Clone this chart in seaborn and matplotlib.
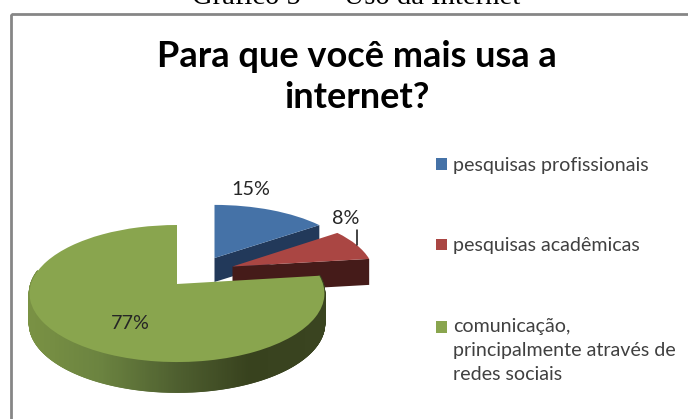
import numpy as np
import matplotlib
matplotlib.use("Agg")
import matplotlib.pyplot as plt
from matplotlib.collections import PolyCollection
from matplotlib.patches import Polygon, Rectangle
from matplotlib.transforms import Transform
from matplotlib.lines import Line2D
import seaborn as sns

categories = [
    "pesquisas profissionais",
    "pesquisas acadêmicas",
    "comunicação,\nprincipalmente através de\nredes sociais",
]
shares = [15, 8, 77]
caption = "Gráfico 5 — Uso da Internet"
title = "Para que você mais usa a\ninternet?"

TOP_COLORS = ["#4572A7", "#AA4643", "#89A54E"]
CUT_COLORS = ["#22395A", "#451B19", "#3A4420"]
RIM_STOPS = ["#7A9244", "#6B8340", "#4F6030", "#38421E", "#3A4420"]
FRAME = "#868686"
TEXT = "#404040"

# Pixel-space layout of each slice: tip position, radius scales, extrusion depth.
SLICE_LAYOUT = [
    dict(tip=(214.5, 258.0), sx=0.96, sy=0.90, depth=24.0),
    dict(tip=(232.5, 266.5), sx=0.96, sy=0.92, depth=26.0),
    dict(tip=(177.0, 284.0), sx=1.00, sy=1.00, depth=30.0),
]
RADIUS_X, RADIUS_Y, TILT = 146.0, 67.2, 0.139


class TiltedDisk(Transform):
    """Perspective view of the unit disk, expressed in pixel-like data units."""
    input_dims = 2
    output_dims = 2
    is_separable = False

    def __init__(self, tip, sx, sy, drop=0.0):
        super().__init__()
        self.tip, self.sx, self.sy, self.drop = tip, sx, sy, drop

    def transform_non_affine(self, values):
        values = np.asarray(values, dtype=float)
        x, y = values[:, 0], values[:, 1]
        w = 1.0 + TILT * y
        return np.column_stack([
            self.tip[0] + RADIUS_X * self.sx * x / w,
            self.tip[1] + self.drop - RADIUS_Y * self.sy * y / w,
        ])


sns.set_theme(style="white")
plt.rcParams["font.family"] = ["Lato", "DejaVu Sans"]

fig = plt.figure(figsize=(6.88, 4.19), dpi=100, facecolor="white")
ax = fig.add_axes([0, 0, 1, 1])

wedges, _ = ax.pie(shares, colors=TOP_COLORS, startangle=90, counterclock=False,
                   wedgeprops=dict(linewidth=0))
ax.set_aspect("auto")
ax.set_xlim(0, 688)
ax.set_ylim(419, 0)
ax.axis("off")

rim_palette = sns.blend_palette(RIM_STOPS, n_colors=256)


def unit_point(angle):
    rad = np.deg2rad(angle)
    return np.array([[np.cos(rad), np.sin(rad)]])


for i, (wedge, layout) in enumerate(zip(wedges, SLICE_LAYOUT)):
    top = TiltedDisk(layout["tip"], layout["sx"], layout["sy"])
    low = TiltedDisk(layout["tip"], layout["sx"], layout["sy"], layout["depth"])
    wedge.set_transform(top + ax.transData)
    wedge.set_zorder(2 * i + 2)

    # Radial cut on the clockwise edge of the slice.
    edge = wedge.theta1
    origin = np.zeros((1, 2))
    cut = np.vstack([top.transform_non_affine(origin),
                     top.transform_non_affine(unit_point(edge)),
                     low.transform_non_affine(unit_point(edge)),
                     low.transform_non_affine(origin)])
    if i < 2:
        ax.add_patch(Polygon(cut, closed=True, facecolor=CUT_COLORS[i],
                             edgecolor="none", zorder=2 * i + 1))
    else:
        # Outer wall of the large slice, front-facing part only, shaded left to right.
        angles = np.linspace(wedge.theta1, wedge.theta2, 721)
        unit = np.column_stack([np.cos(np.deg2rad(angles)), np.sin(np.deg2rad(angles))])
        upper = top.transform_non_affine(unit)
        lower = low.transform_non_affine(unit)
        quads, shades = [], []
        for a in range(len(angles) - 1):
            if unit[a, 1] > 0.2 or unit[a + 1, 1] > 0.2:
                continue
            quads.append([upper[a], upper[a + 1], lower[a + 1], lower[a]])
            t = (upper[a, 0] - 28.0) / 294.0
            shades.append(rim_palette[int(np.clip(t, 0, 1) * 255)])
        ax.add_collection(PolyCollection(quads, facecolors=shades, edgecolors=shades,
                                         linewidths=1.2, zorder=2 * i + 1))

# Percentage labels and the short leader of the smallest slice.
label_xy = [(251, 189), (346, 218), (130, 323)]
for share, (x, y) in zip(shares, label_xy):
    ax.text(x, y, f"{share}%", ha="center", va="center", fontsize=14.2,
            color="#262626", zorder=12)
ax.add_line(Line2D([356.8, 356.8], [230, 245], color="#111111", lw=1.1, zorder=12))

# Chart frame, open beyond the right and bottom edges.
ax.add_patch(Rectangle((11, 14), 700, 430, facecolor="none", edgecolor=FRAME,
                       linewidth=2, zorder=1, clip_on=True))

ax.text(356, 4, caption, ha="center", va="baseline", fontsize=20.6,
        family="Liberation Serif", color="black", zorder=12)
ax.text(356.5, 77, title, ha="center", va="center", fontsize=26, fontweight="bold",
        color="black", linespacing=1.26, zorder=12)

legend = ax.legend(wedges, categories, loc="upper left",
                   bbox_to_anchor=(436 / 688, 1 - 157 / 419), frameon=False,
                   fontsize=14.1, labelcolor=TEXT, handlelength=0.56, handleheight=0.56,
                   handletextpad=0.3, labelspacing=3.24, borderpad=0, borderaxespad=0)
for text in legend.get_texts():
    text.set_linespacing(1.5)
# Keep the swatch of the three-line entry beside its first line.
swatch = legend.legend_handles[2]
swatch.set_y(swatch.get_y() + 16.6)

fig.savefig("out.png", dpi=100)
